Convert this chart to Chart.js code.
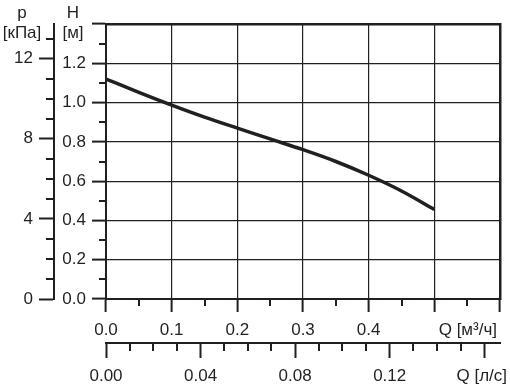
<!DOCTYPE html>
<html>
<head>
<meta charset="utf-8">
<script src="https://cdn.jsdelivr.net/npm/chart.js@4/dist/chart.umd.min.js"></script>
<style>
  html, body { margin: 0; padding: 0; background: #fff; }
  #wrap { width: 510px; height: 390px; }
</style>
</head>
<body>
<div id="wrap"><canvas id="grafikPompa"></canvas></div>
<script>
// ---------------- data kurva pompa ----------------
const debitM3h = [0, 0.05, 0.1, 0.15, 0.2, 0.25, 0.3, 0.35, 0.4, 0.45, 0.5];
const headM    = [1.12, 1.052, 0.987, 0.926, 0.87, 0.815, 0.76, 0.70, 0.63, 0.55, 0.456];

// tick sumbu
const hMajor   = [0, 0.2, 0.4, 0.6, 0.8, 1.0, 1.2, 1.4];
const hMinor   = [0.1, 0.3, 0.5, 0.7, 0.9, 1.1, 1.3];
const pMajor   = [0, 4, 8, 12];
const pMinor   = [1, 2, 3, 5, 6, 7, 9, 10, 11, 13];
const qMajor   = [0, 0.1, 0.2, 0.3, 0.4, 0.5, 0.6];
const qMinor   = [0.05, 0.15, 0.25, 0.35, 0.45, 0.55];
const qlsMajor = [0, 0.04, 0.08, 0.12, 0.16];
const qlsMinor = [0.01, 0.02, 0.03, 0.05, 0.06, 0.07, 0.09, 0.10, 0.11, 0.13, 0.14, 0.15];

const H_MAX = 1.4;
const Q_MAX = 0.6;
const P_MAX = H_MAX * 9.80665;   // 1 m kolom air = 9.807 kPa
const QLS_MAX = Q_MAX / 3.6;     // m3/h -> l/s

const INK = '#231f20';
const FONT_FAMILY = "'Liberation Sans', Arial, sans-serif";
const FONT_SIZE = 17;

// tick kecil (minor) digambar pakai skala Chart.js sendiri
const minorTicks = {
  p:   { values: pMinor,   len: 8 },
  y:   { values: hMinor,   len: 7 },
  x:   { values: qMinor,   len: 7 },
  xls: { values: qlsMinor, len: 8 }
};

const minorPlugin = {
  id: 'tickKecil',
  afterDraw(chart) {
    const ctx = chart.ctx;
    ctx.save();
    ctx.strokeStyle = INK;
    ctx.lineWidth = 2;
    Object.keys(minorTicks).forEach(id => {
      const s = chart.scales[id];
      const cfg = minorTicks[id];
      cfg.values.forEach(v => {
        const pos = Math.round(s.getPixelForValue(v));
        ctx.beginPath();
        if (s.isHorizontal()) {
          ctx.moveTo(pos, s.top);
          ctx.lineTo(pos, s.top + cfg.len);
        } else {
          ctx.moveTo(s.right - cfg.len, pos);
          ctx.lineTo(s.right, pos);
        }
        ctx.stroke();
      });
    });
    ctx.restore();
  }
};

// label nama sumbu
const labelPlugin = {
  id: 'namaSumbu',
  afterDraw(chart) {
    const ctx = chart.ctx;
    const sp = chart.scales.p, sh = chart.scales.y;
    const sx = chart.scales.x, sl = chart.scales.xls;
    ctx.save();
    ctx.font = FONT_SIZE + 'px ' + FONT_FAMILY;
    ctx.fillStyle = INK;
    ctx.textBaseline = 'middle';
    ctx.textAlign = 'center';
    ctx.fillText('p', sp.right - 32, 13);
    ctx.fillText('[кПа]', sp.right - 32, 33);
    ctx.fillText('H', sh.right - 33, 13);
    ctx.fillText('[м]', sh.right - 33, 33);
    ctx.textAlign = 'right';
    ctx.fillText('Q [м³/ч]', sx.right - 3, sx.top + 31);
    ctx.fillText('Q [л/с]', sl.right + 7, sl.top + 33);
    ctx.restore();
  }
};

const pakai = list => s => { s.ticks = list.map(v => ({ value: v })); };
const lebar = w => s => { s.width = w; };
const tinggi = h => s => { s.height = h; };

Chart.defaults.font.family = FONT_FAMILY;
Chart.defaults.font.size = FONT_SIZE;
Chart.defaults.color = INK;

new Chart(document.getElementById('grafikPompa'), {
  type: 'line',
  data: {
    datasets: [{
      data: debitM3h.map((q, i) => ({ x: q, y: headM[i] })),
      borderColor: INK,
      borderWidth: 3.5,
      pointRadius: 0,
      fill: false,
      cubicInterpolationMode: 'monotone',
      xAxisID: 'x',
      yAxisID: 'y'
    }]
  },
  options: {
    responsive: true,
    maintainAspectRatio: false,
    animation: false,
    events: [],
    layout: { padding: { top: 24, right: 10, left: 0, bottom: 0 } },
    plugins: { legend: { display: false }, tooltip: { enabled: false } },
    scales: {
      x: {
        type: 'linear', position: 'bottom', weight: 0,
        min: 0, max: Q_MAX,
        afterBuildTicks: pakai(qMajor),
        afterFit: tinggi(44),
        grid: { color: INK, lineWidth: 1.2, tickColor: INK, tickWidth: 2, tickLength: 13 },
        border: { color: INK, width: 2 },
        ticks: { padding: 8, maxRotation: 0, autoSkip: false,
                 callback: v => v > 0.45 ? '' : v.toFixed(1) }
      },
      xls: {
        type: 'linear', position: 'bottom', weight: 1,
        min: 0, max: QLS_MAX,
        afterBuildTicks: pakai(qlsMajor),
        afterFit: tinggi(47),
        grid: { drawOnChartArea: false, tickColor: INK, tickWidth: 2, tickLength: 15 },
        border: { color: INK, width: 2 },
        ticks: { padding: 8, maxRotation: 0, autoSkip: false,
                 callback: v => v > 0.15 ? '' : v.toFixed(2) }
      },
      xTop: {
        type: 'linear', position: 'top', min: 0, max: Q_MAX,
        afterFit: tinggi(0),
        grid: { display: false, drawTicks: false },
        border: { color: INK, width: 2.5 },
        ticks: { display: false }
      },
      y: {
        type: 'linear', position: 'left', weight: 0,
        min: 0, max: H_MAX,
        afterBuildTicks: pakai(hMajor),
        afterFit: lebar(52),
        grid: { color: INK, lineWidth: 1.2, tickColor: INK, tickWidth: 2, tickLength: 14 },
        border: { color: INK, width: 2 },
        ticks: { padding: 6, callback: v => v > 1.3 ? '' : v.toFixed(1) }
      },
      p: {
        type: 'linear', position: 'left', weight: 1,
        min: 0, max: P_MAX,
        afterBuildTicks: pakai(pMajor),
        afterFit: lebar(54),
        grid: { drawOnChartArea: false, tickColor: INK, tickWidth: 2, tickLength: 15 },
        border: { color: INK, width: 2 },
        ticks: { padding: 6, callback: v => String(v) }
      },
      yRight: {
        type: 'linear', position: 'right', min: 0, max: H_MAX,
        afterFit: lebar(0),
        grid: { display: false, drawTicks: false },
        border: { color: INK, width: 2.5 },
        ticks: { display: false }
      }
    }
  },
  plugins: [minorPlugin, labelPlugin]
});
</script>
</body>
</html>
